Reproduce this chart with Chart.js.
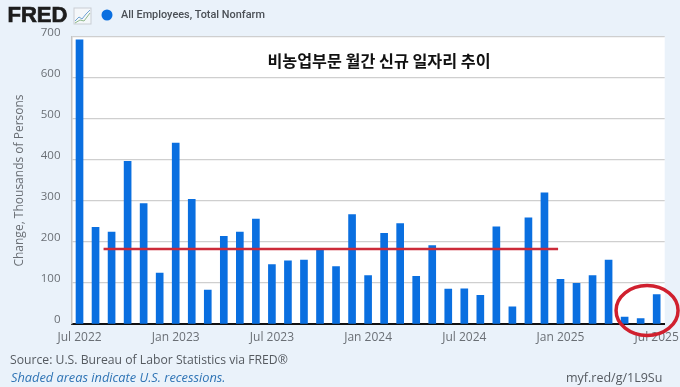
<!DOCTYPE html>
<html>
<head>
<meta charset="utf-8">
<style>
  html, body { margin: 0; padding: 0; background: #eaf2fa; }
  canvas { display: block; }
</style>
<script src="https://cdn.jsdelivr.net/npm/chart.js@4"></script>
</head>
<body>
<canvas id="myChart" width="680" height="387"></canvas>
<script>
var months = [
  'Jul 2022','Aug 2022','Sep 2022','Oct 2022','Nov 2022','Dec 2022',
  'Jan 2023','Feb 2023','Mar 2023','Apr 2023','May 2023','Jun 2023',
  'Jul 2023','Aug 2023','Sep 2023','Oct 2023','Nov 2023','Dec 2023',
  'Jan 2024','Feb 2024','Mar 2024','Apr 2024','May 2024','Jun 2024',
  'Jul 2024','Aug 2024','Sep 2024','Oct 2024','Nov 2024','Dec 2024',
  'Jan 2025','Feb 2025','Mar 2025','Apr 2025','May 2025','Jun 2025','Jul 2025'
];
var jobsChange = [
  693, 236, 224, 397, 294, 124,
  441, 304, 83, 214, 224, 256,
  145, 154, 156, 183, 140, 267,
  118, 221, 245, 116, 191, 85,
  86, 70, 237, 42, 259, 320,
  109, 99, 118, 156, 17, 13, 72
];
var tickMonths = ['Jul 2022','Jan 2023','Jul 2023','Jan 2024','Jul 2024','Jan 2025','Jul 2025'];
var averageLevel = 183;
var averageFrom = 1.5;   // between Aug and Sep 2022
var averageTo = 29.85;   // just before Jan 2025
var seriesName = 'All Employees, Total Nonfarm';
var chartTitle = '비농업부문 월간 신규 일자리 추이';
var sourceText = 'Source: U.S. Bureau of Labor Statistics via FRED®';
var recessionText = 'Shaded areas indicate U.S. recessions.';
var linkText = 'myf.red/g/1L9Su';

var sansFont = '"Open Sans", sans-serif';

// white plot area behind grid and bars
var plotBackground = {
  id: 'plotBackground',
  beforeDraw: function(chart) {
    var a = chart.chartArea;
    chart.ctx.fillStyle = '#ffffff';
    chart.ctx.fillRect(a.left, a.top, a.right - a.left, a.bottom - a.top);
  }
};

// FRED header, footer, title and the hand drawn red circle
var decorations = {
  id: 'decorations',
  afterDatasetsDraw: function(chart) {
    var c = chart.ctx;
    var x = chart.scales.x, y = chart.scales.y;
    c.save();
    c.textBaseline = 'middle';
    c.textAlign = 'left';

    c.fillStyle = '#1d1d1d';
    c.strokeStyle = '#1d1d1d';
    c.lineWidth = 0.7;
    c.font = 'bold 22px "Liberation Sans", sans-serif';
    c.fillText('FRED', 7.5, 16);
    c.strokeText('FRED', 7.5, 16);

    // little line chart icon
    c.fillStyle = '#f4f7fa';
    c.strokeStyle = '#c9ced4';
    c.lineWidth = 1;
    c.fillRect(74, 8, 17, 16);
    c.strokeRect(74, 8, 17, 16);
    c.strokeStyle = '#6fa3d4';
    c.beginPath();
    c.moveTo(75, 21); c.lineTo(79, 17); c.lineTo(82, 19); c.lineTo(86, 14); c.lineTo(90, 10);
    c.stroke();
    c.strokeStyle = '#8fb98a';
    c.beginPath();
    c.moveTo(75, 23); c.lineTo(80, 20); c.lineTo(84, 21); c.lineTo(90, 13);
    c.stroke();

    // legend
    c.fillStyle = '#0a6fe0';
    c.beginPath();
    c.arc(107, 15, 5.5, 0, Math.PI * 2);
    c.fill();
    c.fillStyle = '#4a4f55';
    c.font = '500 10.9px Roboto, sans-serif';
    c.fillText(chart.data.datasets[0].label, 121, 15);

    // title
    c.fillStyle = '#111';
    c.font = 'bold 16.2px "Noto Sans CJK KR"';
    c.textAlign = 'center';
    c.fillText(chartTitle, 379, 60.5);

    // footer
    c.textAlign = 'left';
    c.fillStyle = '#555a60';
    c.font = '12.2px ' + sansFont;
    c.fillText(sourceText, 10, 361);
    c.fillStyle = '#2f74b5';
    c.font = 'italic 12.8px ' + sansFont;
    c.fillText(recessionText, 11, 378);
    c.fillStyle = '#555a60';
    c.font = '12.5px ' + sansFont;
    c.fillText(linkText, 566, 378);

    // red circle round the last three months
    c.strokeStyle = '#d0202e';
    c.lineWidth = 3.5;
    c.beginPath();
    c.ellipse(x.getPixelForValue(35.4), y.getPixelForValue(33), 31, 25, 0, 0, Math.PI * 2);
    c.stroke();
    c.restore();
  }
};

var ctx = document.getElementById('myChart').getContext('2d');
var myChart = new Chart(ctx, {
  type: 'bar',
  data: {
    labels: months,
    datasets: [{
      label: seriesName,
      data: jobsChange,
      backgroundColor: '#0a6fe0',
      barThickness: 7,
      order: 2
    }, {
      type: 'line',
      label: 'average',
      parsing: false,
      data: [{x: averageFrom, y: averageLevel}, {x: averageTo, y: averageLevel}],
      borderColor: '#cc2a38',
      borderWidth: 2.6,
      pointRadius: 0,
      order: 1
    }]
  },
  plugins: [plotBackground, decorations],
  options: {
    responsive: false,
    animation: false,
    layout: { padding: { left: 0, right: 15.3, top: 37, bottom: 43 } },
    plugins: {
      legend: { display: false },
      tooltip: { enabled: false }
    },
    scales: {
      x: {
        afterFit: function(scale) {
          scale.height = 20;
          scale.paddingLeft = 0;
          scale.paddingRight = 0;
        },
        grid: { display: false },
        border: { color: '#111', width: 2 },
        ticks: {
          autoSkip: false,
          maxRotation: 0,
          padding: -2,
          color: '#6a6f75',
          font: { family: sansFont, size: 12 },
          callback: function(value) {
            var label = this.getLabelForValue(value);
            return tickMonths.indexOf(label) >= 0 ? label : '';
          }
        }
      },
      y: {
        min: 0,
        max: 700,
        afterFit: function(scale) {
          scale.width = 71.5;
        },
        grid: { color: '#cfcfcf', lineWidth: 1.2, drawTicks: false },
        border: { color: '#c4c4c4', width: 1.5 },
        title: {
          display: true,
          text: 'Change, Thousands of Persons',
          color: '#6a6f75',
          font: { family: sansFont, size: 12 },
          padding: { top: 12, bottom: 0 }
        },
        ticks: {
          stepSize: 100,
          padding: 11,
          labelOffset: -4.7,
          color: '#6a6f75',
          font: { family: sansFont, size: 11.5 }
        }
      }
    }
  }
});
</script>
</body>
</html>
